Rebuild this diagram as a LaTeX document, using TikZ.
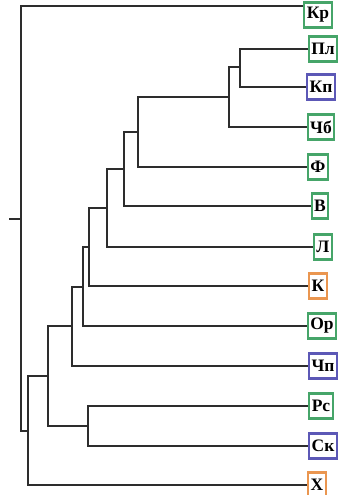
\documentclass[tikz,border=0pt]{standalone}
\usepackage{fontspec}
\setmainfont{Liberation Serif}
\definecolor{gbox}{RGB}{70,165,105}
\definecolor{bbox}{RGB}{92,88,182}
\definecolor{obox}{RGB}{234,150,80}
\definecolor{tline}{RGB}{45,45,45}
\tikzset{
  leaf/.style={draw=#1, line width=2.2pt, fill=white, font=\fontsize{17.5}{17.5}\selectfont\bfseries,
    inner xsep=2.5pt, inner ysep=0pt, minimum height=25pt, text=black},
  branch/.style={draw=tline, line width=1.7pt}
}
\begin{document}
\begin{tikzpicture}[x=1pt,y=-1pt]
\useasboundingbox (0,0) rectangle (342,495);
% leaves
\node[leaf=gbox] (Kr)  at (318,15)  {Кр};
\node[leaf=gbox] (Pl)  at (323,49)  {Пл};
\node[leaf=bbox] (Kp)  at (321,87)  {Кп};
\node[leaf=gbox] (Chb) at (321,127) {Чб};
\node[leaf=gbox] (F)   at (318,167) {Ф};
\node[leaf=gbox] (V)   at (320,206) {В};
\node[leaf=gbox] (L)   at (323,247) {Л};
\node[leaf=obox] (K)   at (318,286) {К};
\node[leaf=gbox] (Or)  at (322,326) {Ор};
\node[leaf=bbox] (Chp) at (323,366) {Чп};
\node[leaf=gbox] (Rs)  at (321,406) {Рс};
\node[leaf=bbox] (Sk)  at (323,446) {Ск};
\node[leaf=obox] (X)   at (317,485) {Х};
\coordinate (krl) at (Kr.west |- 0,6);
% internal nodes
\coordinate (n1) at (240,67);
\coordinate (n2) at (229,97);
\coordinate (n3) at (138,132);
\coordinate (n4) at (124,169);
\coordinate (n5) at (107,208);
\coordinate (n6) at (89,247);
\coordinate (n7) at (83,287);
\coordinate (n8) at (72,326);
\coordinate (n9) at (88,426);
\coordinate (n10) at (48,376);
\coordinate (n11) at (28,431);
\coordinate (root) at (21,219);
\coordinate (stub) at (9,219);
% branches
\draw[branch] (Pl) -| (n1) |- (Kp);
\draw[branch] (n1) -| (n2) |- (Chb);
\draw[branch] (n2) -| (n3) |- (F);
\draw[branch] (n3) -| (n4) |- (V);
\draw[branch] (n4) -| (n5) |- (L);
\draw[branch] (n5) -| (n6) |- (K);
\draw[branch] (n6) -| (n7) |- (Or);
\draw[branch] (n7) -| (n8) |- (Chp);
\draw[branch] (Rs) -| (n9) |- (Sk);
\draw[branch] (n8) -| (n10) |- (n9);
\draw[branch] (n10) -| (n11) |- (X);
\draw[branch] (krl) -| (root) |- (n11);
\draw[branch] (stub) -- (root);
\end{tikzpicture}
\end{document}
